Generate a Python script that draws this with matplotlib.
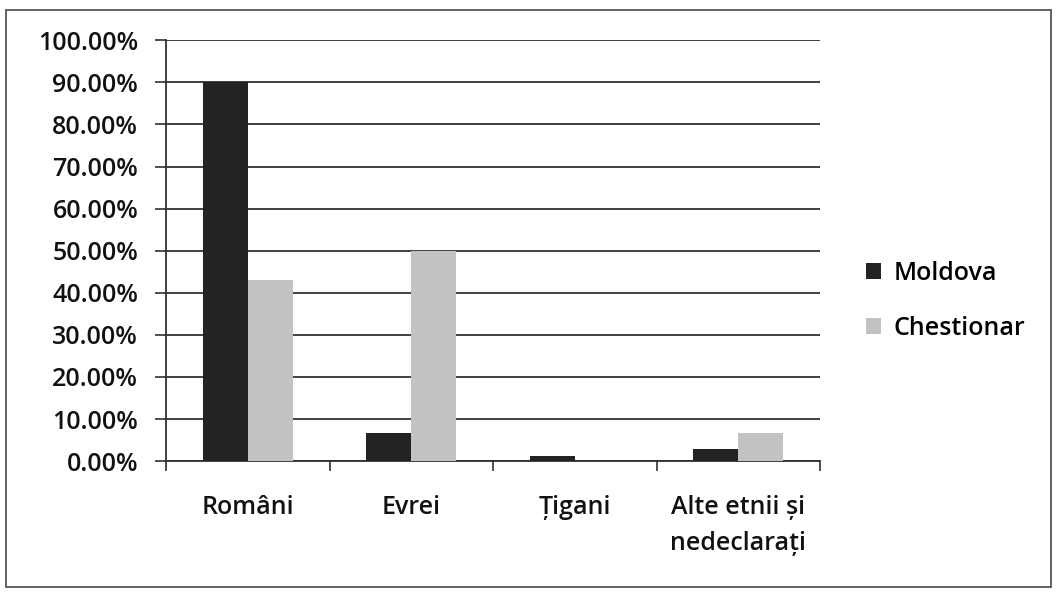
import numpy as np
import matplotlib.pyplot as plt
from matplotlib.patches import Rectangle
from matplotlib.ticker import FuncFormatter

plt.rcParams['font.family'] = ['Open Sans', 'DejaVu Sans']

categories = ['Români', 'Evrei', 'Țigani', 'Alte etnii și\nnedeclarați']
moldova = [90.0, 6.6, 1.3, 2.8]
chestionar = [43.0, 50.0, 0.0, 6.8]

fig = plt.figure(figsize=(10.57, 5.92), dpi=100)
ax = fig.add_axes([0.157, 0.221, 0.619, 0.711])

x = np.arange(len(categories))
w = 0.275
ax.bar(x - w / 2, moldova, w, color='#232323', label='Moldova', zorder=3)
ax.bar(x + w / 2, chestionar, w, color='#c2c2c2', label='Chestionar', zorder=3)

ax.set_xlim(-0.5, len(categories) - 0.5)
ax.set_ylim(0, 100)
ax.set_yticks(np.arange(0, 101, 10))
ax.yaxis.set_major_formatter(FuncFormatter(lambda v, p: f'{v:.2f}%'))
ax.grid(axis='y', color='#303030', linewidth=1.3, zorder=0)

fs = 18
ax.set_xticks(x)
ax.set_xticklabels(categories, fontsize=fs, linespacing=1.6, va='top')
ax.tick_params(axis='x', length=0, pad=24)
ax.set_xticks(np.arange(-0.5, len(categories), 1), minor=True)
ax.tick_params(axis='x', which='minor', length=7, width=1.2, color='#303030')
ax.tick_params(axis='y', length=8, width=1.2, color='#303030', labelsize=fs, pad=12)
for t in ax.get_xticklabels() + ax.get_yticklabels():
    t.set_fontweight('semibold')
    t.set_color('#111111')

for s in ['top', 'right']:
    ax.spines[s].set_visible(False)
for s in ['left', 'bottom']:
    ax.spines[s].set_color('#303030')
    ax.spines[s].set_linewidth(1.3)

leg = ax.legend(loc='center left', bbox_to_anchor=(1.035, 0.38), frameon=False,
                prop={'size': fs, 'weight': 'semibold'}, handlelength=0.6, handleheight=0.6,
                handletextpad=0.5, labelspacing=1.2)

fig.patches.append(Rectangle((6 / 1057, 5 / 592), 1045 / 1057, 577 / 592,
                             transform=fig.transFigure, fill=False,
                             edgecolor='#555555', linewidth=1.3))

fig.savefig('out.png', dpi=100)
